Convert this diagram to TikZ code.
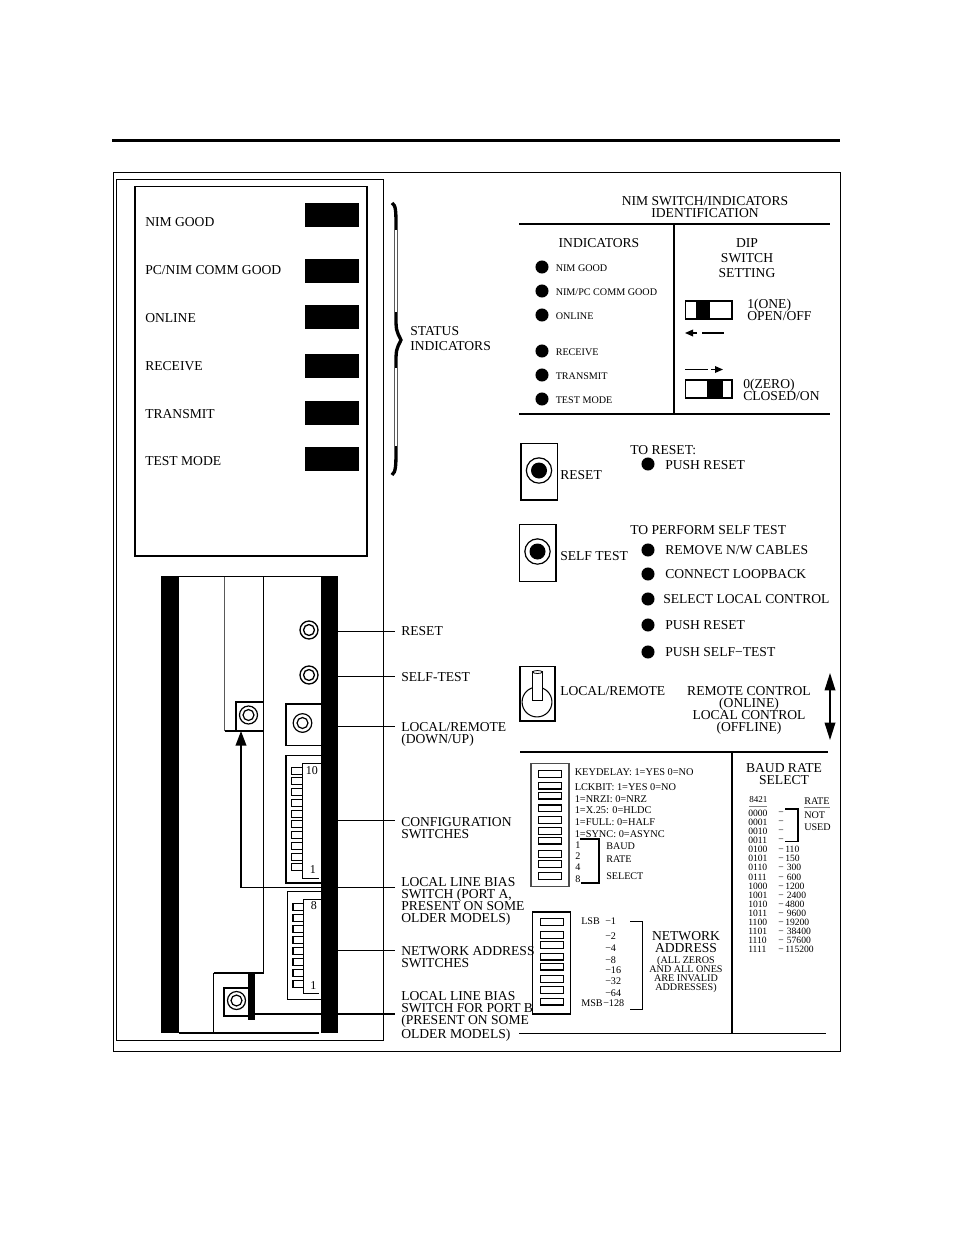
\documentclass[tikz,border=0pt]{standalone}
\usepackage{fontspec}
\setmainfont{Liberation Serif}
\usetikzlibrary{arrows.meta}
\tikzset{
  lbl/.style={anchor=west, inner sep=0pt, align=left, font=\fontsize{10.2}{9}\selectfont},
  ctr/.style={inner sep=0pt, align=center, font=\fontsize{10.2}{9}\selectfont},
  sm/.style={anchor=west, inner sep=0pt, font=\fontsize{7.6}{7.6}\selectfont},
  tiny/.style={anchor=west, inner sep=0pt, font=\fontsize{6.8}{6.8}\selectfont},
  dot/.style={circle, fill=black, inner sep=0pt, minimum size=9.8pt},
  thin line/.style={line width=0.6pt},
  heavy/.style={line width=1.2pt},
  leader/.style={line width=1.3pt, shorten >=4.5pt},
  dipsw/.style={line width=1pt, fill=white},
}
\begin{document}
\begin{tikzpicture}[x=0.75pt, y=-0.75pt]
    \useasboundingbox (0,0) rectangle (954,1235);
    \def\ringa{6.75pt}
    \def\ringb{4.1pt}

    % Page rule and outer frames
    \draw[line width=2.2pt] (112,140.5) -- (840,140.5);
    \draw[thin line] (113,172.5) rectangle (840,1051);
    \draw[thin line] (116.5,179.5) rectangle (383.5,1040.5);
    \draw[line width=0.8pt] (135,186.5) rectangle (367,556);

    % Indicator lamps
    \foreach \name/\lampy/\txty/\txt in {nimgood/215/222/NIM GOOD, pcnim/271/270/{PC/NIM COMM GOOD}, online/317/318/ONLINE,
        receive/366/366/RECEIVE, transmit/413/414/TRANSMIT, testmode/459/461/TEST MODE} {
      \fill (305,\lampy-12) rectangle (359,\lampy+12);
      \node[lbl] (lamp\name) at (145,\txty) {\txt};
    }

    % Status brace
    \draw[line width=2.5pt] (392,203) .. controls (396,205) and (396,212) .. (396,228) -- (396,315)
      .. controls (396,330) .. (401,340) .. controls (396,350) .. (396,365) -- (396,448)
      .. controls (396,465) and (396,472) .. (392,475);
    \draw[white, line width=0.8pt] (396,230) -- (396,312);
    \draw[white, line width=0.8pt] (396,368) -- (396,446);
    \node[lbl] (status) at (410,338.5) {STATUS\\[2.2pt]INDICATORS};

    % Front panel
    \draw[line width=0.9pt, gray!70!black] (224.5,577) -- (224.5,731);
    \draw[line width=0.8pt] (224.5,731) -- (263.5,731);
    \draw[line width=0.8pt] (236,731) -- (236,702) -- (263.5,702);
    \draw[line width=0.7pt] (263.5,577) -- (263.5,973);
    \draw[heavy] (213.5,973) -- (263.5,973);
    \draw[line width=0.7pt] (213.5,973) -- (213.5,1033);
    \draw[heavy] (179,576.5) -- (321,576.5);
    \draw[line width=0.8pt] (179,1033) -- (319,1033);
    \draw[line width=1pt] (309,630) circle (\ringa) circle (\ringb);
    \draw[line width=1pt] (309,675) circle (\ringa) circle (\ringb);
    \draw[line width=0.9pt] (248.5,715) circle (\ringa) circle (\ringb);
    \draw[heavy] (321,704) -- (286,704) -- (286,745.5) -- (321,745.5);
    \draw[line width=0.9pt] (302.5,723) circle (7pt) circle (\ringb);

    % Configuration switches
    \draw[line width=0.9pt] (321,755.5) -- (286,755.5) -- (286,883) -- (321,883);
    \draw[line width=0.7pt] (321,763.5) -- (302,763.5) -- (302,878) -- (319,878);
    \foreach \k in {0,...,9} {
      \pgfmathsetmacro{\swy}{770.6+10.75*\k}
      \draw[line width=0.8pt] (302,\swy-3.5) -- (291.5,\swy-3.5) -- (291.5,\swy+3.5) -- (302,\swy+3.5);
    }
    \node[sm, font=\fontsize{9}{9}\selectfont] (cfgten) at (305.5,771) {10};
    \node[sm, font=\fontsize{9}{9}\selectfont] (cfgone) at (309.5,870) {1};

    % Address switches
    \draw[line width=0.7pt] (321,891.5) -- (287.5,891.5) -- (287.5,999) -- (321,999);
    \draw[line width=0.7pt] (321,899) -- (303.5,899) -- (303.5,993.5) -- (319,993.5);
    \foreach \k in {0,...,7} {
      \pgfmathsetmacro{\swy}{907+11*\k}
      \draw[line width=1pt] (303.5,\swy-3.5) -- (293,\swy-3.5) -- (293,\swy+3.5) -- (303.5,\swy+3.5);
    }
    \node[sm, font=\fontsize{9}{9}\selectfont] (adreight) at (310.5,906) {8};
    \node[sm, font=\fontsize{9}{9}\selectfont] (adrone) at (310,985.5) {1};

    % Port B bias switch
    \draw[line width=0.8pt] (248,988) -- (224,988) -- (224,1016) -- (248,1016);
    \draw[line width=0.9pt] (236.5,1000.5) circle (\ringa) circle (\ringb);

    % Call-out labels
    \node[lbl] (reset) at (401,631) {RESET};
    \node[lbl] (selftest) at (401,677) {SELF-TEST};
    \node[lbl] (localremote) at (401,734) {LOCAL/REMOTE\\(DOWN/UP)};
    \node[lbl] (config) at (401,828) {CONFIGURATION\\SWITCHES};
    \node[lbl] (porta) at (401,901.5) {LOCAL LINE BIAS\\SWITCH (PORT A,\\PRESENT ON SOME\\OLDER MODELS)};
    \node[lbl] (network) at (401,957) {NETWORK ADDRESS\\SWITCHES};
    \node[lbl] (portb) at (401,1016.5) {LOCAL LINE BIAS\\SWITCH FOR PORT B\\(PRESENT ON SOME\\OLDER MODELS)};

    % Call-out lines
    \coordinate (resetpt) at (338,631.5);
    \coordinate (selfpt) at (338,676.5);
    \coordinate (localpt) at (338,726);
    \coordinate (configpt) at (338,820.5);
    \coordinate (networkpt) at (338,950.5);
    \coordinate (portbpt) at (255,1014);
    \draw[leader] (resetpt) -- (resetpt -| reset.west);
    \draw[leader] (selfpt) -- (selfpt -| selftest.west);
    \draw[line width=0.7pt, shorten >=4.5pt] (localpt) -- (localpt -| localremote.west);
    \draw[leader] (configpt) -- (configpt -| config.west);
    \draw[leader] (networkpt) -- (networkpt -| network.west);
    \draw[line width=0.8pt, shorten >=4.5pt] (portbpt) -- (portbpt -| portb.west);
    \coordinate (portapt) at (395,887.5);
    \draw[line width=1.3pt, -{Triangle[width=8pt,length=11pt]}] (portapt) -- (241,887.5) -- (241,731);

    % Black rails, on top of the lines
    \fill (161,576) rectangle (179,1033);
    \fill (321,576) rectangle (338,1033);
    \fill (248,973) rectangle (255,1020);

    % Identification header
    \node[ctr] (title) at (705,207) {NIM SWITCH/INDICATORS\\IDENTIFICATION};
    \draw[line width=0.9pt] (519,224) -- (830,224);
    \draw[line width=1pt] (674,224) -- (674,414);
    \draw[heavy] (519,414) -- (830,414);
    \node[ctr] (indicators) at (599,243) {INDICATORS};
    \node[ctr] (dip) at (747,258) {DIP\\[2.25pt]SWITCH\\[2.25pt]SETTING};

    % Indicator legend
    \foreach \name/\doty/\txt in {a/267/NIM GOOD, b/291/{NIM/PC COMM GOOD}, c/315/ONLINE,
        d/351/RECEIVE, e/375/TRANSMIT, f/399/TEST MODE} {
      \node[dot] (ind\name) at (542,\doty) {};
      \node[sm] (indtxt\name) at (555.5,\doty+1) {\txt};
    }

    % DIP switch setting
    \draw[line width=0.9pt] (685.5,301) rectangle (732,319);
    \fill (696,301) rectangle (709.5,319);
    \node[lbl] (one) at (747,310) {1(ONE)\\OPEN/OFF};
    \draw[line width=0.9pt, -{Triangle[width=5pt,length=6pt]}] (697,333) -- (685,333);
    \draw[line width=0.9pt] (702,333) -- (724,333);
    \draw[line width=0.9pt] (685,369.5) -- (708,369.5);
    \draw[line width=0.9pt, -{Triangle[width=5pt,length=6pt]}] (711,369.5) -- (723,369.5);
    \draw[line width=0.9pt] (685.5,380) rectangle (732,398);
    \fill (707,380) rectangle (723,398);
    \node[lbl] (zero) at (743,390) {0(ZERO)\\CLOSED/ON};

    % Reset and self test
    \draw[line width=0.9pt] (521,443.5) rectangle (557.5,500);
    \draw[line width=0.9pt] (539,470.5) circle (9.5pt);
    \fill (539,470.5) circle (6pt);
    \node[lbl] (resetlbl) at (560,475) {RESET};
    \node[lbl] (toreset) at (630,450) {TO RESET:};
    \node[dot] (pushdot) at (648,464) {};
    \node[lbl] (pushlbl) at (665,465) {PUSH RESET};

    \draw[line width=0.9pt] (519.5,524.5) rectangle (556,581.5);
    \draw[line width=0.9pt] (537.5,551.5) circle (9.5pt);
    \fill (537.5,551.5) circle (6pt);
    \node[lbl] (selflbl) at (560,556) {SELF TEST};
    \node[lbl] (toself) at (630,530) {TO PERFORM SELF TEST};
    \foreach \name/\doty/\txtx/\txt in {r/550/665/{REMOVE N/W CABLES}, c/574/665/CONNECT LOOPBACK,
        s/599/663/SELECT LOCAL CONTROL, p/625/665/PUSH RESET, t/652/665/PUSH SELF−TEST} {
      \node[dot] (step\name) at (648,\doty) {};
      \node[lbl] (steptxt\name) at (\txtx,\doty+0.5) {\txt};
    }

    % Local / remote toggle
    \draw[line width=0.9pt] (520,666.5) rectangle (555,721);
    \draw[line width=0.8pt] (537,702) circle (11.2pt);
    \draw[line width=0.8pt, fill=white] (532.5,700.5) -- (532.5,672) -- (542.5,672) -- (542.5,700.5) -- cycle;
    \draw[line width=0.6pt, fill=white] (537.5,672) ellipse (3.7pt and 1.1pt);
    \node[lbl] (togglelbl) at (560,691) {LOCAL/REMOTE};
    \node[ctr] (control) at (749,710.5) {REMOTE CONTROL\\(ONLINE)\\LOCAL CONTROL\\(OFFLINE)};
    \coordinate (uptip) at (830,673);
    \coordinate (downtip) at (830,740);
    \draw[line width=1pt, {Triangle[width=8pt,length=13pt]}-{Triangle[width=8pt,length=13pt]}] (uptip) -- (downtip);

    % Lower section rules
    \draw[line width=1.3pt] (520,752) -- (828,752);
    \draw[line width=1.2pt] (732,752) -- (732,1033);
    \draw[line width=0.7pt] (519,1033) -- (826,1033);

    % Configuration legend
    \draw[line width=1pt, gray!60!black] (531,763.5) rectangle (569,886.5);
    \foreach \swy in {774,785.7,795.7,808.3,820,831,840.7,854,864,876} {
      \draw[dipsw] (538.5,\swy-3.2) rectangle (561.5,\swy+3.2);
    }
    \foreach \name/\txty/\txt in {a/772/KEYDELAY: 1=YES 0=NO, b/787/LCKBIT: 1=YES 0=NO, c/799/1=NRZI: 0=NRZ,
        d/810/1=X.25: 0=HLDC, e/822/1=FULL: 0=HALF, f/834/1=SYNC: 0=ASYNC} {
      \node[sm, font=\fontsize{7.75}{7.75}\selectfont] (cfg\name) at (574.5,\txty) {\txt};
    }
    \foreach \name/\txty in {1/845,2/856,4/867,8/879} {
      \node[sm] (baud\name) at (575,\txty) {\name};
    }
    \draw[line width=0.9pt] (580,839) -- (599,839) -- (599,883) -- (581,883);
    \node[sm] (baudtxt) at (606,846) {BAUD};
    \node[sm] (ratetxt) at (606,859) {RATE};
    \node[sm] (selecttxt) at (606,876) {SELECT};

    % Network address legend
    \draw[heavy] (532.5,912) rectangle (570.5,1014);
    \foreach \swy in {922,935,945,956.7,966.7,979,990,1001.7} {
      \draw[dipsw] (540.5,\swy-3.2) rectangle (563.5,\swy+3.2);
    }
    \node[sm] (lsb) at (581,921) {LSB};
    \node[sm] (msb) at (581,1003) {MSB};
    \foreach \name/\txtx/\txty in {1/605/921,2/605/936,4/605/948,8/605/960,16/605/970,32/605/981,64/605/993,128/603/1003} {
      \node[sm] (bit\name) at (\txtx,\txty) {−\name};
    }
    \draw[line width=0.7pt] (630,921) -- (642.5,921) -- (642.5,1009) -- (630,1009);
    \node[ctr] (netaddr) at (686,942) {NETWORK\\ADDRESS};
    \node[ctr, font=\fontsize{7.6}{6.8}\selectfont] (invalid) at (686,974.5) {(ALL ZEROS\\AND ALL ONES\\ARE INVALID\\ADDRESSES)};

    % Baud rate table
    \node[ctr] (baudrate) at (784,774) {BAUD RATE\\SELECT};
    \node[tiny] (codehdr) at (749,800) {8421};
    \draw[line width=0.6pt, gray] (749,806) -- (767,806);
    \node[sm] (ratehdr) at (804,801) {RATE};
    \draw[line width=0.6pt, gray] (804,807) -- (830,807);
    \foreach \code/\rate [count=\k from 0] in {0000/,0001/,0010/,0011/,0100/110,0101/150,0110/\,300,0111/\,600,
        1000/1200,1001/\,2400,1010/4800,1011/\,9600,1100/19200,1101/\,38400,1110/\,57600,1111/115200} {
      \pgfmathsetmacro{\rowy}{813.3+9.08*\k}
      \node[sm, font=\fontsize{7.2}{7.2}\selectfont] (code\k) at (748,\rowy) {\code};
      \node[sm, font=\fontsize{7.2}{7.2}\selectfont] (rate\k) at (778,\rowy) {−\,\rate};
    }
    \draw[line width=1.1pt] (785,809) -- (798,809) -- (798,841.7) -- (785,841.7);
    \node[sm, align=left, font=\fontsize{7.6}{7.6}\selectfont] (notused) at (804,821) {NOT\\[1.5pt]USED};
\end{tikzpicture}
\end{document}
